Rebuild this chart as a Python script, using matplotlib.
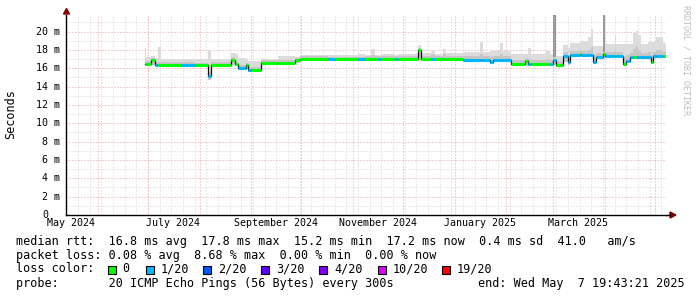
import matplotlib

matplotlib.use("Agg")
import matplotlib.dates as mdates
import matplotlib.pyplot as plt
import matplotlib.transforms as mtransforms
import pandas as pd
from matplotlib.lines import Line2D
from matplotlib.patches import Polygon, Rectangle

ANCHO, ALTO = 697, 297
FUENTE = "DejaVu Sans Mono"

# Tramos de la mediana (cada tramo va desde su inicio hasta el siguiente)
tramo_inicio = [
    "2024-06-29", "2024-06-30", "2024-07-03", "2024-07-05", "2024-07-07",
    "2024-07-09", "2024-07-21", "2024-07-29", "2024-08-06", "2024-08-08",
    "2024-08-20", "2024-08-22", "2024-08-24", "2024-08-29", "2024-08-30",
    "2024-09-01", "2024-09-07", "2024-09-17", "2024-09-27", "2024-09-30",
    "2024-10-17", "2024-10-21", "2024-11-04", "2024-11-08", "2024-11-12",
    "2024-11-14", "2024-11-16", "2024-11-18", "2024-11-26", "2024-11-28",
    "2024-12-10", "2024-12-12", "2024-12-18", "2024-12-20", "2024-12-25",
    "2024-12-27", "2025-01-06", "2025-01-16", "2025-01-18", "2025-01-22",
    "2025-01-24", "2025-01-28", "2025-01-30", "2025-02-04", "2025-02-12",
    "2025-02-14", "2025-02-16", "2025-02-25", "2025-02-27", "2025-03-01",
    "2025-03-03", "2025-03-07", "2025-03-10", "2025-03-11", "2025-03-17",
    "2025-03-18", "2025-03-22", "2025-03-24", "2025-03-25", "2025-03-27",
    "2025-03-31", "2025-04-01", "2025-04-07", "2025-04-08", "2025-04-12",
    "2025-04-14", "2025-04-16", "2025-04-18", "2025-04-20", "2025-04-21",
    "2025-04-23", "2025-04-27", "2025-04-29", "2025-04-30", "2025-05-02",
    "2025-05-06",
]
fin = "2025-05-07 19:43:21"

# mediana en ms
mediana = [
    16.5, 16.5, 16.9, 16.35, 16.35, 16.35, 16.35, 16.3, 15.1, 16.4,
    16.85, 16.5, 16.0, 16.3, 15.8, 15.8, 16.6, 16.55, 16.9, 17.05,
    16.95, 16.95, 16.95, 17.0, 17.0, 17.0, 17.0, 17.05, 17.0, 17.05,
    17.95, 17.0, 17.0, 17.0, 17.0, 17.0, 16.9, 16.9, 16.9, 16.7,
    16.85, 16.85, 16.85, 16.5, 16.8, 16.5, 16.5, 16.5, 16.5, 16.85,
    16.4, 17.35, 16.7, 17.45, 17.6, 17.4, 17.4, 17.4, 16.7, 17.2,
    17.6, 17.3, 17.3, 17.3, 16.5, 16.8, 17.2, 17.2, 17.2, 17.2,
    17.2, 17.2, 16.7, 17.3, 17.3, 17.3,
]

# humo: limite inferior, banda oscura y limite superior (ms)
humo_bajo = [
    16.3, 16.3, 16.4, 16.2, 16.2, 16.2, 16.2, 16.1, 14.7, 16.2,
    16.4, 16.3, 15.8, 15.9, 15.6, 15.6, 16.4, 16.4, 16.6, 16.9,
    16.8, 16.8, 16.8, 16.85, 16.85, 16.85, 16.85, 16.9, 16.85, 16.9,
    16.9, 16.85, 16.85, 16.85, 16.85, 16.85, 16.7, 16.7, 16.7, 16.5,
    16.7, 16.7, 16.7, 16.3, 16.3, 16.3, 16.3, 16.3, 16.3, 16.4,
    16.2, 16.7, 16.4, 17.2, 17.2, 17.2, 17.2, 17.2, 16.5, 17.0,
    17.0, 17.1, 17.1, 17.1, 16.3, 16.6, 17.0, 17.0, 17.0, 17.0,
    17.0, 17.0, 16.5, 17.1, 17.1, 17.1,
]
humo_medio = [
    16.9, 16.8, 17.1, 16.7, 16.7, 16.65, 16.65, 16.6, 15.6, 16.7,
    17.2, 16.9, 16.4, 16.6, 16.1, 16.1, 16.9, 16.9, 17.1, 17.3,
    17.25, 17.25, 17.25, 17.3, 17.4, 17.3, 17.3, 17.35, 17.3, 17.35,
    18.2, 17.35, 17.4, 17.35, 17.5, 17.35, 17.3, 17.6, 17.3, 17.2,
    17.3, 17.5, 17.3, 16.9, 17.1, 17.0, 16.9, 17.0, 16.9, 17.3,
    16.8, 17.8, 17.3, 17.9, 18.1, 17.9, 18.0, 18.3, 17.4, 17.7,
    18.0, 17.8, 18.1, 17.8, 17.2, 17.4, 17.7, 18.1, 18.3, 18.0,
    17.7, 17.8, 17.4, 17.8, 18.0, 17.8,
]
humo_alto = [
    18.2, 17.2, 17.3, 17.1, 18.3, 17.0, 17.0, 17.0, 18.0, 17.0,
    17.7, 17.6, 17.1, 17.0, 16.8, 16.8, 17.0, 17.3, 17.2, 17.4,
    17.4, 17.4, 17.5, 17.4, 18.1, 17.4, 17.4, 17.5, 17.4, 17.5,
    18.5, 17.7, 17.9, 17.6, 18.1, 17.7, 17.8, 18.9, 17.8, 17.9,
    17.9, 18.7, 17.9, 17.6, 17.6, 18.2, 17.6, 17.9, 17.5, 21.8,
    17.3, 18.5, 18.2, 18.7, 19.0, 19.0, 19.4, 20.3, 18.4, 18.4,
    21.8, 18.6, 19.6, 18.6, 18.6, 18.6, 18.6, 19.8, 20.1, 19.6,
    18.6, 18.9, 18.9, 18.9, 19.4, 18.7,
]

# nivel de perdida de cada tramo (indice en colores_perdida)
perdida = [
    0, 0, 0, 1, 0, 0, 1, 0, 1, 0,
    0, 0, 1, 0, 1, 0, 0, 0, 0, 0,
    1, 0, 1, 0, 0, 0, 1, 0, 1, 0,
    0, 0, 1, 0, 0, 0, 1, 1, 1, 1,
    1, 1, 1, 0, 0, 1, 0, 0, 1, 1,
    0, 1, 1, 1, 0, 1, 1, 1, 1, 1,
    0, 1, 0, 1, 0, 1, 1, 0, 1, 1,
    1, 1, 0, 1, 1, 0,
]

# picos de humo oscuro
pico_inicio = ["2025-03-01", "2025-03-31"]
pico_fin = ["2025-03-03", "2025-04-01"]
pico_bajo = [17.2, 17.8]
pico_alto = [21.8, 21.8]

colores_perdida = ["#00ff00", "#00b8ff", "#0059ff", "#5e00ff", "#7e00ff", "#dd00ff", "#ff0000"]
etiquetas_perdida = ["0", "1/20", "2/20", "3/20", "4/20", "10/20", "19/20"]

etiquetas_mes = ["May 2024", "July 2024", "September 2024", "November 2024", "January 2025", "March 2025"]
fechas_etiqueta = ["2024-05-16", "2024-07-16", "2024-09-16", "2024-11-16", "2025-01-16", "2025-03-16"]

lineas_texto = [
    "median rtt:  16.8 ms avg  17.8 ms max  15.2 ms min  17.2 ms now  0.4 ms sd  41.0   am/s",
    "packet loss: 0.08 % avg  8.68 % max  0.00 % min  0.00 % now",
    "loss color:",
    "probe:       20 ICMP Echo Pings (56 Bytes) every 300s",
]
texto_fin = "end: Wed May  7 19:43:21 2025"

COLOR_GRID = "#d4d4d4"
COLOR_MGRID = "#e9a3a3"
COLOR_FLECHA = "#7f0000"


def px(x, y):
    """Pixel de la imagen -> fraccion de figura."""
    return x / ANCHO, 1 - y / ALTO


def main():
    fig = plt.figure(figsize=(ANCHO / 100, ALTO / 100), dpi=100)
    fig.patch.set_facecolor("white")
    ax = fig.add_axes([66 / ANCHO, (ALTO - 215) / ALTO, 600 / ANCHO, 200 / ALTO])

    fin_t = pd.Timestamp(fin)
    bordes = list(pd.to_datetime(tramo_inicio)) + [fin_t]
    x_bordes = mdates.date2num(bordes)

    ax.set_xlim(mdates.date2num(fin_t - pd.Timedelta(days=360)), mdates.date2num(fin_t))
    ax.set_ylim(0, 21.8)

    # rejilla
    punteado = (0, (1, 2))
    for d in pd.date_range("2024-05-13", fin_t, freq="W-MON"):
        ax.axvline(mdates.date2num(d), color=COLOR_GRID, lw=0.72, ls=punteado, zorder=0.5)
    for m in range(1, 22):
        color = COLOR_MGRID if m % 2 == 0 else COLOR_GRID
        ax.axhline(m, color=color, lw=0.72, ls=punteado, zorder=0.6)
    for d in pd.date_range("2024-06-01", fin_t, freq="MS"):
        ax.axvline(mdates.date2num(d), color=COLOR_MGRID, lw=0.72, ls=punteado, zorder=0.7)

    # humo
    ax.fill_between(x_bordes, humo_bajo + [humo_bajo[-1]], humo_alto + [humo_alto[-1]],
                    step="post", color="#dcdcdc", lw=0, zorder=2)
    ax.fill_between(x_bordes, humo_bajo + [humo_bajo[-1]], humo_medio + [humo_medio[-1]],
                    step="post", color="#c6c6c6", lw=0, zorder=2.1)
    for ini, fn, lo, hi in zip(pico_inicio, pico_fin, pico_bajo, pico_alto):
        x0, x1 = mdates.date2num([pd.Timestamp(ini), pd.Timestamp(fn)])
        ax.fill_between([x0, x1], [lo, lo], [hi, hi], color="#9a9a9a", lw=0, zorder=2.2)

    # mediana
    ax.step(x_bordes, mediana + [mediana[-1]], where="post", color="#101010", lw=0.9, zorder=3)
    ax.hlines(mediana, x_bordes[:-1], x_bordes[1:],
              colors=[colores_perdida[p] for p in perdida], lw=2.2, zorder=4)

    # ejes
    for lado in ["top", "right"]:
        ax.spines[lado].set_visible(False)
    for lado in ["left", "bottom"]:
        ax.spines[lado].set_color("black")
        ax.spines[lado].set_linewidth(1.0)
        ax.spines[lado].set_zorder(5)

    ax.set_yticks([])
    ax.set_xticks(mdates.date2num(pd.to_datetime(fechas_etiqueta)))
    ax.set_xticklabels(etiquetas_mes, fontfamily=FUENTE, fontsize=7.2)
    ax.tick_params(axis="x", length=0, pad=2.5)

    trans = mtransforms.blended_transform_factory(fig.transFigure, ax.transData)
    for v in range(0, 21, 2):
        texto = "0" if v == 0 else f"{v} m"
        xr = 48 if v == 0 else 60
        ax.text(xr / ANCHO, v, texto, transform=trans, ha="right", va="center",
                fontfamily=FUENTE, fontsize=7.2, clip_on=False)

    # flechas
    fig.add_artist(Polygon([px(66.5, 8.5), px(63.5, 14), px(69.5, 14)], closed=True,
                           transform=fig.transFigure, color=COLOR_FLECHA))
    fig.add_artist(Line2D([666 / ANCHO, 670 / ANCHO], [1 - 215 / ALTO] * 2,
                          transform=fig.transFigure, color="black", lw=1.0))
    fig.add_artist(Polygon([px(676, 215), px(670, 212), px(670, 218)], closed=True,
                           transform=fig.transFigure, color=COLOR_FLECHA))

    # textos
    fig.text(*px(10.5, 114), "Seconds", rotation=90, ha="center", va="center",
             fontfamily=FUENTE, fontsize=8.5)
    fig.text(*px(686, 5), "RRDTOOL / TOBI OETIKER", rotation=270, ha="center", va="top",
             fontfamily=FUENTE, fontsize=6, color="#bdbdbd")

    for i, linea in enumerate(lineas_texto):
        fig.text(*px(16, 241 + 14 * i), linea, ha="left", va="center",
                 fontfamily=FUENTE, fontsize=8.5)
    fig.text(*px(478, 283), texto_fin, ha="left", va="center", fontfamily=FUENTE, fontsize=8.5)

    cuadros_x = [108, 145.5, 203.3, 261.3, 319.2, 377.7, 442.2]
    for xc, color, etiqueta in zip(cuadros_x, colores_perdida, etiquetas_perdida):
        x0, y0 = px(xc, 273.5)
        fig.add_artist(Rectangle((x0, y0), 8 / ANCHO, 8 / ALTO, transform=fig.transFigure,
                                 facecolor=color, edgecolor="black", lw=0.8))
        fig.text(*px(xc + 14.7, 269), etiqueta, ha="left", va="center",
                 fontfamily=FUENTE, fontsize=8.5)

    fig.savefig("out.png", dpi=100, facecolor="white")
    plt.close(fig)


if __name__ == "__main__":
    main()
